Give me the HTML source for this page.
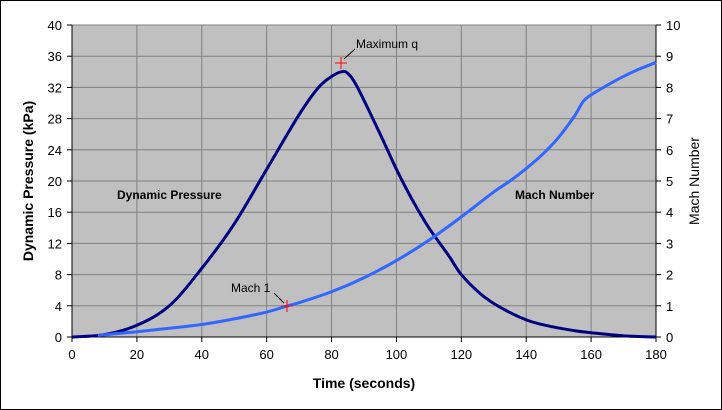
<!DOCTYPE html>
<html><head><meta charset="utf-8"><style>
body{margin:0;background:#fff}
svg{display:block;font-family:"Liberation Sans",Arial,sans-serif}
</style></head><body>
<svg id="s" width="722" height="410" xmlns="http://www.w3.org/2000/svg">
<rect x="0.5" y="0.5" width="721" height="409" fill="#fff" stroke="#000"/>
<rect x="72" y="25" width="584" height="312" fill="#c0c0c0"/>
<g id="grid" stroke="#808080" stroke-width="1"></g>
<rect x="72" y="25" width="584" height="312" fill="none" stroke="#808080"/>
<g id="ticks" stroke="#000"></g>
<g id="lab" font-size="13" fill="#000"></g>
<path id="q" fill="none" stroke="#000080" stroke-width="3" stroke-linejoin="round"/>
<path id="m" fill="none" stroke="#3366ff" stroke-width="3" stroke-linejoin="round"/>
<g stroke="#ff0000" stroke-width="1">
<line x1="335" y1="63" x2="347" y2="63"/><line x1="341" y1="57" x2="341" y2="69"/>
<line x1="281" y1="306" x2="293" y2="306"/><line x1="287" y1="300" x2="287" y2="312"/>
</g>
<line x1="344" y1="59" x2="355" y2="49" stroke="#000"/>
<line x1="284" y1="303" x2="274" y2="293" stroke="#000"/>
<text x="356" y="48" font-size="12">Maximum q</text>
<text x="231" y="292" font-size="12">Mach 1</text>
<text x="117" y="199" font-size="12" font-weight="bold">Dynamic Pressure</text>
<text x="515" y="199" font-size="12" font-weight="bold">Mach Number</text>
<text x="364" y="388" font-size="14" font-weight="bold" text-anchor="middle">Time (seconds)</text>
<text transform="translate(33,181) rotate(-90)" font-size="14" font-weight="bold" text-anchor="middle">Dynamic Pressure (kPa)</text>
<text transform="translate(699,181) rotate(-90)" font-size="14" text-anchor="middle">Mach Number</text>
</svg>
<script>
var X=function(t){return 72+t*584/180},YK=function(k){return 337-k*7.8},YM=function(m){return 337-m*31.2};
var g=document.getElementById('grid'),tk=document.getElementById('ticks'),lb=document.getElementById('lab'),h='',tt='',l='';
for(var i=1;i<9;i++){var x=X(i*20);h+='<line x1="'+x+'" y1="25" x2="'+x+'" y2="337"/>';}
for(var j=1;j<10;j++){var y=337-j*31.2;h+='<line x1="72" y1="'+y+'" x2="656" y2="'+y+'"/>';}
g.innerHTML=h;
for(var i=0;i<=9;i++){var x=X(i*20);tt+='<line x1="'+x+'" y1="337" x2="'+x+'" y2="342"/>';l+='<text x="'+x+'" y="359" text-anchor="middle">'+(i*20)+'</text>';}
for(var j=0;j<=10;j++){var y=337-j*31.2;tt+='<line x1="67" y1="'+y+'" x2="72" y2="'+y+'"/><line x1="656" y1="'+y+'" x2="661" y2="'+y+'"/>';
l+='<text x="62" y="'+(y+5)+'" text-anchor="end">'+(j*4)+'</text><text x="666" y="'+(y+5)+'">'+j+'</text>';}
tt+='<line x1="72" y1="25" x2="72" y2="337"/><line x1="656" y1="25" x2="656" y2="337"/><line x1="72" y1="337" x2="656" y2="337"/>';
tk.innerHTML=tt;lb.innerHTML=l;
function cr(P){var d='M'+P[0][0]+','+P[0][1];for(var i=0;i<P.length-1;i++){var p0=P[i-1]||P[i],p1=P[i],p2=P[i+1],p3=P[i+2]||p2;
d+=' C'+(p1[0]+(p2[0]-p0[0])/6)+','+(p1[1]+(p2[1]-p0[1])/6)+' '+(p2[0]-(p3[0]-p1[0])/6)+','+(p2[1]-(p3[1]-p1[1])/6)+' '+p2[0]+','+p2[1];}return d;}
var q=[[0,0],[10,0.3],[20,1.5],[30,4],[40,8.8],[50,14.5],[60,21.5],[70,28.5],[76,32],[80,33.4],[83,34],[85,33.8],[88,32],[95,26],[100,21.5],[105,17.5],[110,14],[116,10.5],[120,8],[126,5.5],[132,3.8],[140,2.2],[147,1.4],[155,0.8],[160,0.55],[170,0.15],[180,0]];
var m=[[8,0.05],[15,0.12],[20,0.17],[30,0.28],[40,0.4],[50,0.58],[60,0.8],[66.5,1],[70,1.1],[80,1.45],[90,1.9],[100,2.45],[110,3.1],[120,3.85],[130,4.65],[135,5.0],[140,5.4],[145,5.85],[150,6.4],[155,7.1],[158,7.6],[163,7.95],[169,8.3],[174,8.55],[180,8.8]];
document.getElementById('q').setAttribute('d',cr(q.map(function(p){return [X(p[0]),YK(p[1])]})));
document.getElementById('m').setAttribute('d',cr(m.map(function(p){return [X(p[0]),YM(p[1])]})));
</script>
</body></html>
